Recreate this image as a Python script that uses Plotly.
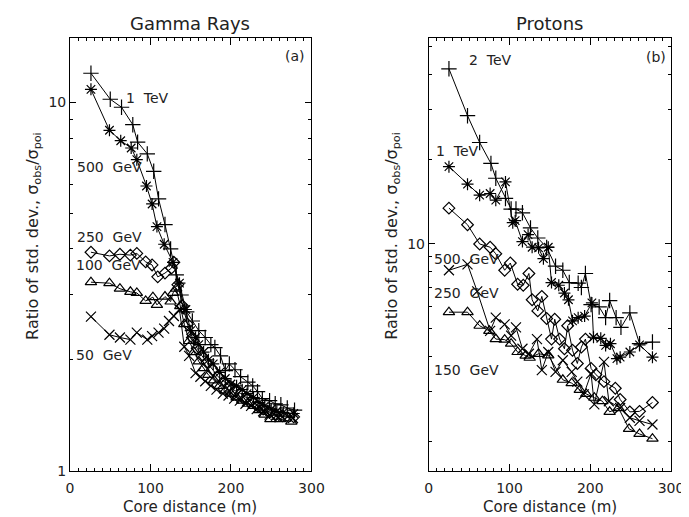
import plotly.graph_objects as go
import numpy as np

# Gamma rays (panel a)
g1tev_x = [26, 50, 64, 78, 84, 96, 104, 110, 118, 125, 132, 138, 145, 152, 160, 168, 175, 180, 187, 193, 198, 205, 212, 221, 227, 233, 239, 248, 255, 262, 270, 279]
g1tev_y = [12.0, 10.2, 9.7, 8.7, 7.8, 7.25, 6.5, 5.47, 4.66, 4.0, 3.4, 3.0, 2.7, 2.55, 2.4, 2.3, 2.2, 2.16, 2.05, 1.87, 1.95, 1.88, 1.8, 1.74, 1.7, 1.64, 1.57, 1.55, 1.52, 1.51, 1.48, 1.46]

g500_x = [26, 49, 63, 76, 83, 95, 102, 108, 117, 128, 136, 144, 150, 156, 160, 166, 172, 178, 186, 193, 200, 207, 214, 220, 228, 235, 242, 250, 257, 265, 278]
g500_y = [10.85, 8.4, 7.87, 7.52, 6.99, 5.93, 5.3, 4.6, 4.12, 3.68, 3.23, 2.74, 2.4, 2.3, 2.2, 2.1, 2.0, 1.95, 1.85, 1.78, 1.72, 1.7, 1.66, 1.62, 1.58, 1.53, 1.5, 1.47, 1.45, 1.44, 1.43]

g250_x = [26, 49, 62, 75, 83, 94, 102, 109, 118, 126, 129, 134, 140, 146, 152, 158, 164, 170, 177, 184, 191, 198, 205, 212, 219, 226, 233, 240, 248, 256, 264, 278]
g250_y = [3.92, 3.83, 3.87, 3.85, 3.89, 3.69, 3.62, 3.36, 3.44, 3.55, 3.68, 3.2, 2.8, 2.5, 2.3, 2.15, 2.05, 1.97, 1.88, 1.8, 1.75, 1.7, 1.65, 1.62, 1.58, 1.55, 1.5, 1.47, 1.44, 1.42, 1.41, 1.4]

g100_x = [26, 49, 62, 75, 83, 94, 103, 108, 118, 125, 128, 132, 137, 142, 148, 154, 160, 166, 172, 179, 186, 193, 200, 207, 214, 221, 228, 235, 242, 249, 261, 275]
g100_y = [3.25, 3.23, 3.12, 3.06, 3.04, 2.89, 2.96, 2.82, 2.97, 2.88, 3.04, 3.12, 2.8, 2.5, 2.25, 2.1, 1.98, 1.9, 1.82, 1.76, 1.7, 1.65, 1.62, 1.58, 1.55, 1.52, 1.5, 1.46, 1.42, 1.38, 1.38, 1.36]

g50_x = [26, 49, 62, 75, 83, 96, 102, 110, 117, 123, 129, 136, 142, 148, 156, 162, 168, 175, 182, 190, 197, 204, 211, 218, 225, 232, 240, 248, 256, 264, 277]
g50_y = [2.62, 2.34, 2.30, 2.27, 2.37, 2.27, 2.32, 2.37, 2.43, 2.55, 2.63, 2.74, 2.17, 2.05, 1.84, 1.8, 1.75, 1.7, 1.66, 1.62, 1.6, 1.57, 1.55, 1.52, 1.5, 1.47, 1.45, 1.42, 1.41, 1.4, 1.39]

# Protons (panel b)
p2tev_x = [25, 48, 63, 77, 83, 95, 102, 108, 116, 126, 135, 146, 157, 166, 174, 185, 189, 194, 201, 211, 219, 224, 232, 238, 249, 261, 277]
p2tev_y = [41.8, 28.5, 22.9, 19.3, 17.1, 14.5, 13.3, 13.3, 12.9, 11.4, 10.5, 9.73, 8.34, 8.07, 7.3, 7.26, 7.01, 7.86, 6.1, 5.98, 5.48, 6.3, 5.48, 5.06, 5.7, 4.43, 4.49]

p1tev_x = [25, 48, 63, 76, 83, 95, 104, 107, 116, 123, 128, 136, 142, 148, 152, 161, 168, 173, 178, 185, 193, 202, 204, 213, 219, 225, 233, 237, 249, 261, 277]
p1tev_y = [18.8, 16.3, 14.9, 15.1, 14.3, 16.6, 11.9, 12.1, 10.2, 10.8, 9.74, 9.69, 8.87, 9.74, 7.3, 7.14, 6.7, 6.34, 5.34, 5.48, 5.55, 6.18, 4.67, 4.63, 4.37, 4.43, 3.92, 3.97, 4.14, 4.39, 3.97]

p500_x = [25, 48, 63, 76, 83, 94, 101, 110, 117, 124, 128, 135, 140, 146, 152, 156, 162, 168, 172, 178, 184, 189, 194, 201, 207, 217, 231, 237, 249, 261, 277]
p500_y = [13.4, 11.7, 10.0, 9.74, 9.23, 8.07, 8.56, 7.2, 7.14, 7.86, 6.34, 5.79, 6.52, 5.44, 4.6, 5.41, 4.6, 4.25, 5.13, 4.2, 3.77, 4.31, 4.6, 3.62, 3.44, 3.25, 3.08, 2.81, 2.54, 2.55, 2.74]

p250_x = [25, 48, 60, 76, 83, 94, 102, 108, 116, 124, 134, 140, 148, 157, 166, 177, 184, 192, 201, 205, 217, 223, 237, 249, 261, 277]
p250_y = [8.07, 8.47, 6.79, 4.92, 5.48, 5.19, 4.73, 5.06, 4.25, 4.08, 4.6, 3.57, 4.14, 3.52, 3.87, 3.52, 3.25, 2.93, 3.47, 2.70, 3.82, 2.77, 2.62, 2.42, 2.36, 2.29]

p150_x = [25, 48, 63, 75, 83, 94, 102, 110, 120, 125, 136, 148, 166, 177, 187, 195, 205, 215, 224, 235, 248, 261, 277]
p150_y = [5.73, 5.73, 5.13, 4.92, 4.6, 4.58, 4.43, 4.14, 4.02, 3.95, 4.08, 4.03, 3.3, 3.21, 3.04, 2.94, 2.85, 2.77, 2.54, 2.62, 2.21, 2.12, 2.04]

FONT = "DejaVu Sans"
W, H = 689, 517

fig = go.Figure()

def add(x, y, sym, size, xa, ya):
    fig.add_trace(go.Scatter(
        x=x, y=y, mode="lines+markers", xaxis=xa, yaxis=ya,
        line=dict(color="black", width=1),
        marker=dict(symbol=sym, size=size, color="black",
                    line=dict(color="black", width=1.2)),
        showlegend=False, hoverinfo="x+y"))

add(g1tev_x, g1tev_y, "cross-thin-open", 11, "x", "y")
add(g500_x, g500_y, "asterisk-open", 10, "x", "y")
add(g250_x, g250_y, "diamond-open", 9, "x", "y")
add(g100_x, g100_y, "triangle-up-open", 10, "x", "y")
add(g50_x, g50_y, "x-thin-open", 10, "x", "y")

add(p2tev_x, p2tev_y, "cross-thin-open", 11, "x2", "y2")
add(p1tev_x, p1tev_y, "asterisk-open", 10, "x2", "y2")
add(p500_x, p500_y, "diamond-open", 9, "x2", "y2")
add(p250_x, p250_y, "x-thin-open", 10, "x2", "y2")
add(p150_x, p150_y, "triangle-up-open", 10, "x2", "y2")

ydom = [1 - 470 / H, 1 - 30 / H]
xdom1 = [59.5 / W, 307 / W]
xdom2 = [427.3 / W, 675.7 / W]

xax = dict(range=[0, 300], tickvals=[0, 100, 200, 300], ticks="inside", ticklen=7,
           tickcolor="black", tickwidth=1, showline=True, linecolor="black", linewidth=1,
           mirror="ticks", showgrid=False, zeroline=False, ticklabelstandoff=4,
           minor=dict(dtick=10, ticks="inside", ticklen=3, tickcolor="black", showgrid=False),
           tickfont=dict(family=FONT, size=14, color="#222"))
yax = dict(type="log", ticks="inside", ticklen=6, tickcolor="black", tickwidth=1,
           showline=True, linecolor="black", linewidth=1, mirror="ticks",
           showgrid=False, zeroline=False, tickfont=dict(family=FONT, size=14, color="#222"))

fig.update_layout(
    width=W, height=H, margin=dict(l=0, r=0, t=0, b=0),
    paper_bgcolor="white", plot_bgcolor="white",
    xaxis=dict(xax, domain=xdom1, anchor="y"),
    xaxis2=dict(xax, domain=xdom2, anchor="y2"),
    yaxis=dict(yax, domain=ydom, anchor="x", range=[0, np.log10(15)],
               tickvals=[1, 10], ticktext=["1", "10"],
               minor=dict(tickvals=[2, 3, 4, 5, 6, 7, 8, 9], ticks="inside", ticklen=3,
                          tickcolor="black", showgrid=False)),
    yaxis2=dict(yax, domain=ydom, anchor="x2", range=[0.196, 1.732],
                tickvals=[10], ticktext=["10"],
                minor=dict(tickvals=[2, 3, 4, 5, 6, 7, 8, 9, 20, 30, 40, 50], ticks="inside",
                           ticklen=3, tickcolor="black", showgrid=False)),
)

ann = []
tf = dict(family=FONT, size=14, color="#222")
# curve labels (data coordinates; y in log10 units)
for xr, yr, txt, x, y in [
    ("x", "y", "1  TeV", 96, 10.3), ("x", "y", "500  GeV", 49, 6.66),
    ("x", "y", "250  GeV", 49, 4.3), ("x", "y", "100  GeV", 48, 3.62),
    ("x", "y", "50  GeV", 42, 2.06), ("x", "y", "(a)", 279, 13.4),
    ("x2", "y2", "2  TeV", 76, 44.9), ("x2", "y2", "1  TeV", 36, 21.4),
    ("x2", "y2", "500  GeV", 47, 8.87), ("x2", "y2", "250  GeV", 47, 6.7),
    ("x2", "y2", "150  GeV", 47, 3.58), ("x2", "y2", "(b)", 282, 46.2),
]:
    ann.append(dict(xref=xr, yref=yr, x=x, y=np.log10(y), text=txt, showarrow=False,
                    xanchor="center", yanchor="middle", font=tf))

for xc, title in [(183 / W, "Gamma Rays"), (551.5 / W, "Protons")]:
    ann.append(dict(xref="paper", yref="paper", x=xc, y=1 - 16 / H, text=title,
                    xanchor="center", yanchor="middle", showarrow=False,
                    font=dict(family=FONT, size=18, color="#222")))
    ann.append(dict(xref="paper", yref="paper", x=xc, y=1 - 507 / H,
                    text="Core distance (m)", xanchor="center", yanchor="middle",
                    showarrow=False, font=dict(family=FONT, size=15, color="#222")))

ylab = "Ratio of std. dev., σ<sub>obs</sub>/σ<sub>poi</sub>"
for xc in [22 / W, 390 / W]:
    ann.append(dict(xref="paper", yref="paper", x=xc, y=1 - 231 / H, text=ylab,
                    textangle=-90, xanchor="center", yanchor="middle", showarrow=False,
                    font=dict(family=FONT, size=16, color="#222")))

fig.update_layout(annotations=ann)
fig.write_html("out.html")
